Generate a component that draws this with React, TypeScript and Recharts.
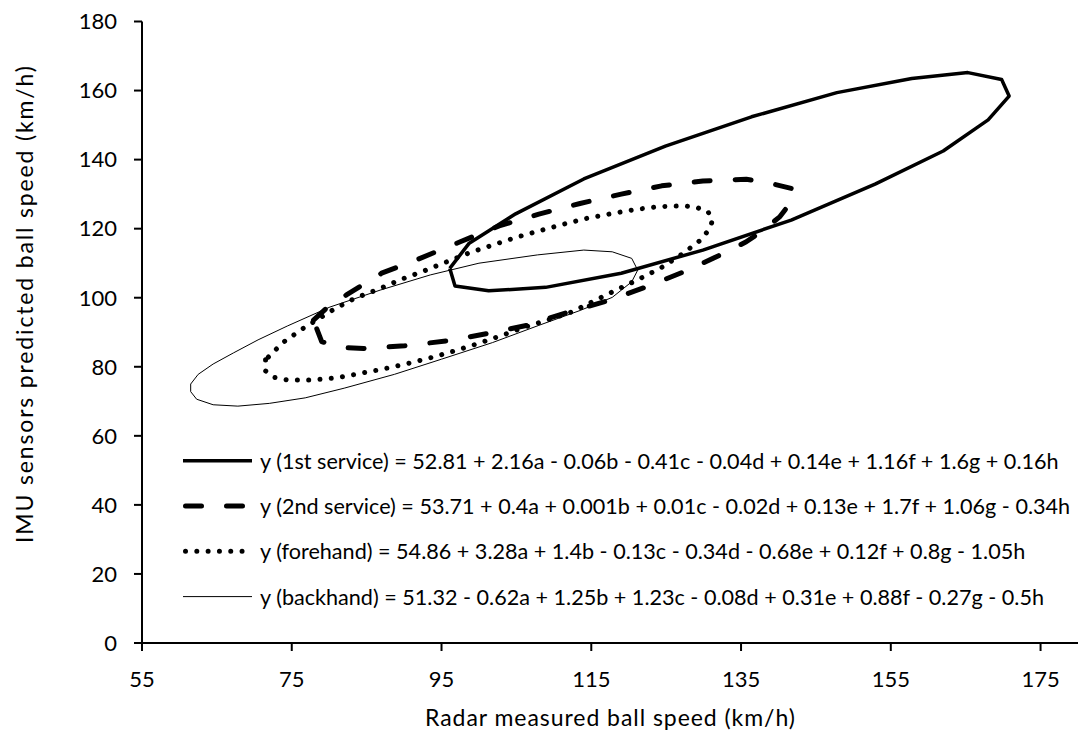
import { ScatterChart, Scatter, XAxis, YAxis, Legend, Label } from "recharts";

// Closed contours, [radar km/h, predicted km/h], read in drawing order
const firstService: [number, number][] = [
  [96.1, 108.5], [98.7, 115.8], [104.9, 124.3], [114.0, 134.4], [124.9, 143.9],
  [136.4, 152.4], [147.8, 159.4], [157.8, 163.5], [165.3, 165.2], [169.8, 163.2],
  [170.8, 158.4], [168.0, 151.5], [162.0, 142.5], [152.9, 132.9], [141.7, 122.5],
  [129.9, 113.8], [119.0, 107.1], [108.9, 103.0], [101.3, 102.0], [96.8, 103.4],
  [96.1, 108.5],
];

const secondService: [number, number][] = [
  [77.9, 93.5], [80.1, 97.9], [82.3, 100.8], [87.0, 107.1], [91.8, 111.1],
  [97.5, 116.2], [102.7, 120.8], [108.0, 124.2], [113.5, 127.3], [119.0, 130.0],
  [124.4, 132.4], [129.9, 133.8], [135.7, 134.3], [138.4, 133.4], [142.0, 131.5],
  [141.7, 127.8], [140.2, 123.5], [138.0, 119.6], [135.7, 116.2], [133.1, 113.3],
  [127.9, 108.0], [122.8, 103.5], [117.5, 99.3], [112.0, 95.9], [106.6, 92.1],
  [101.3, 89.7], [95.8, 87.5], [90.1, 86.1], [84.6, 85.3], [81.5, 85.6],
  [79.0, 87.3], [77.9, 93.5],
];

const forehand: [number, number][] = [
  [71.5, 82.0], [71.5, 78.8], [72.7, 76.9], [74.4, 76.2], [77.7, 76.2],
  [81.0, 76.8], [84.2, 78.1], [87.3, 79.4], [90.6, 81.0], [93.7, 82.7],
  [96.9, 84.7], [100.0, 86.8], [103.2, 89.2], [106.3, 91.6], [109.4, 93.7],
  [112.4, 95.9], [115.4, 99.1], [118.3, 102.2], [121.1, 105.1], [124.2, 108.5],
  [127.1, 112.6], [129.6, 116.7], [130.6, 119.4], [131.2, 122.3], [130.6, 124.9],
  [129.0, 126.2], [127.4, 126.6], [124.2, 126.4], [121.0, 125.6], [117.8, 124.4],
  [114.4, 123.0], [111.3, 121.3], [108.1, 119.4], [105.0, 117.5], [101.9, 115.3],
  [98.7, 113.0], [95.7, 110.4], [92.7, 107.8], [89.6, 105.3], [86.5, 102.4],
  [83.4, 99.8], [80.6, 96.6], [76.5, 91.1], [73.8, 87.0], [71.5, 82.0],
];

const backhand: [number, number][] = [
  [61.5, 75.0], [62.5, 77.8], [64.5, 80.8], [67.2, 84.0], [70.5, 87.8],
  [74.4, 91.8], [80.1, 97.3], [86.8, 102.2], [93.5, 106.6], [100.0, 110.0],
  [107.8, 112.4], [114.0, 113.8], [117.8, 113.3], [120.4, 111.4], [121.2, 108.0],
  [120.4, 104.6], [117.8, 100.1], [113.5, 96.3], [108.0, 92.0], [101.8, 87.0],
  [95.0, 82.2], [88.7, 77.8], [82.0, 73.8], [76.8, 71.0], [72.0, 69.4],
  [67.8, 68.6], [64.5, 69.0], [62.3, 70.6], [61.5, 72.8], [61.5, 75.0],
];

const xTicks = [55, 75, 95, 115, 135, 155, 175];
const yTicks = [0, 20, 40, 60, 80, 100, 120, 140, 160, 180];

const equations = [
  "y (1st service) = 52.81 + 2.16a - 0.06b - 0.41c - 0.04d + 0.14e + 1.16f + 1.6g + 0.16h",
  "y (2nd service) = 53.71 + 0.4a + 0.001b + 0.01c - 0.02d + 0.13e + 1.7f + 1.06g - 0.34h",
  "y (forehand) = 54.86 + 3.28a + 1.4b - 0.13c - 0.34d - 0.68e + 0.12f + 0.8g - 1.05h",
  "y (backhand) = 51.32 - 0.62a + 1.25b + 1.23c - 0.08d + 0.31e + 0.88f - 0.27g - 0.5h",
];

const FONT = "Lato, 'Open Sans', sans-serif";
const INK = "#000";

type LineStyle = {
  width: number;
  dash?: string;
  cap: "round" | "butt";
};

const series: { key: string; points: [number, number][]; style: LineStyle }[] = [
  { key: "first", points: firstService, style: { width: 3.5, cap: "butt" } },
  { key: "second", points: secondService, style: { width: 5, dash: "16 25", cap: "round" } },
  { key: "forehand", points: forehand, style: { width: 5, dash: "0.01 11.3", cap: "round" } },
  { key: "backhand", points: backhand, style: { width: 1, cap: "butt" } },
];

const toXY = (pts: [number, number][]) => pts.map(([x, y]) => ({ x, y }));

const NoMarker = () => <g />;

function EquationLegend() {
  return (
    <svg width={900} height={182} style={{ display: "block", overflow: "visible" }}>
      {series.map((s, i) => {
        const cy = 22.7 + i * 45.3;
        const pad = s.style.cap === "round" ? s.style.width / 2 : 0;
        return (
          <g key={s.key}>
            <line
              x1={pad}
              x2={69 - pad}
              y1={cy}
              y2={cy}
              stroke={INK}
              strokeWidth={s.style.width}
              strokeDasharray={s.style.dash}
              strokeLinecap={s.style.cap}
            />
            <text
              x={77}
              y={cy}
              dominantBaseline="central"
              fontFamily={FONT}
              fontSize={21.6}
              fill={INK}
            >
              {equations[i]}
            </text>
          </g>
        );
      })}
    </svg>
  );
}

export default function App() {
  const tickStyle = { fill: INK, fontFamily: FONT, fontSize: 22 };
  return (
    <div style={{ position: "absolute", left: 0, top: 0, width: 1080, height: 738, background: "#fff" }}>
      <ScatterChart
        width={1080}
        height={738}
        margin={{ top: 21.5, right: 2, bottom: 0, left: 0 }}
      >
        <XAxis
          type="number"
          dataKey="x"
          domain={[55, 180]}
          ticks={xTicks}
          allowDataOverflow
          height={95}
          tickSize={8}
          tickMargin={20}
          tick={tickStyle}
          axisLine={{ stroke: INK, strokeWidth: 2 }}
          tickLine={{ stroke: INK, strokeWidth: 2 }}
        >
          <Label
            content={() => (
              <text
                x={610}
                y={726}
                textAnchor="middle"
                textLength={370}
                lengthAdjust="spacing"
                fontFamily={FONT}
                fontSize={23}
                fill={INK}
              >
                Radar measured ball speed (km/h)
              </text>
            )}
          />
        </XAxis>
        <YAxis
          type="number"
          dataKey="y"
          domain={[0, 180]}
          ticks={yTicks}
          allowDataOverflow
          width={142}
          tickSize={8}
          tickMargin={17}
          tick={tickStyle}
          axisLine={{ stroke: INK, strokeWidth: 2 }}
          tickLine={{ stroke: INK, strokeWidth: 2 }}
        >
          <Label
            content={() => (
              <text
                x={33}
                y={304.5}
                transform="rotate(-90 33 304.5)"
                textAnchor="middle"
                textLength={477}
                lengthAdjust="spacing"
                fontFamily={FONT}
                fontSize={23}
                fill={INK}
              >
                IMU sensors predicted ball speed (km/h)
              </text>
            )}
          />
        </YAxis>
        <Legend
          layout="horizontal"
          align="center"
          verticalAlign="middle"
          content={<EquationLegend />}
          wrapperStyle={{ left: 183, top: 438, width: 900, height: 182 }}
        />
        {series.map((s) => (
          <Scatter
            key={s.key}
            data={toXY(s.points)}
            stroke={INK}
            fill="none"
            shape={NoMarker}
            line={{
              stroke: INK,
              strokeWidth: s.style.width,
              strokeDasharray: s.style.dash,
              strokeLinecap: s.style.cap,
              strokeLinejoin: "round",
            }}
            isAnimationActive={false}
          />
        ))}
      </ScatterChart>
    </div>
  );
}
